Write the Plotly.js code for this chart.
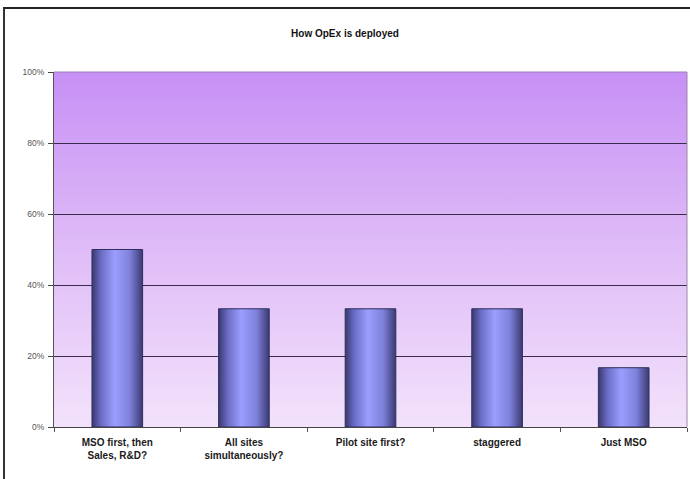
<!DOCTYPE html>
<html>
<head>
<meta charset="utf-8">
<script src="https://cdn.plot.ly/plotly-3.0.1.min.js"></script>
<style>
html,body{margin:0;padding:0;background:#fff;}
#wrap{position:relative;width:690px;height:479px;overflow:hidden;}
#chart{width:690px;height:479px;}
#frame{position:absolute;left:3px;top:7px;width:720px;height:520px;border-left:2px solid #333;border-top:2px solid #222;pointer-events:none;}
</style>
</head>
<body>
<div id="wrap"><div id="chart"></div><div id="frame"></div></div>
<script>
const categories = ["MSO first, then<br>Sales, R&D?", "All sites<br>simultaneously?", "Pilot site first?", "staggered", "Just MSO"];
const values = [0.50, 0.333, 0.333, 0.333, 0.167];
const yTicks = [0, 0.2, 0.4, 0.6, 0.8, 1.0];

const trace = {
  type: 'bar',
  x: categories,
  y: values,
  width: 0.4,
  marker: {color: '#8c8cf0', line: {color: '#2f2f5e', width: 1}},
  hoverinfo: 'none'
};

const layout = {
  width: 690, height: 479,
  margin: {l: 54, r: 3, t: 72, b: 52},
  paper_bgcolor: '#ffffff',
  plot_bgcolor: '#dcbdf6',
  showlegend: false,
  title: {text: 'How OpEx is deployed', x: 0.5, xanchor: 'center', y: 0.931, yanchor: 'middle',
          font: {family: 'Liberation Sans, Arial, sans-serif', size: 10, color: '#111', weight: 600}},
  xaxis: {
    type: 'category',
    showgrid: false,
    showline: true, linecolor: '#444', linewidth: 1,
    ticks: 'outside', ticklen: 4, tickcolor: '#555', tickson: 'boundaries',
    ticklabelstandoff: 6,
    tickfont: {family: 'Liberation Sans, Arial, sans-serif', size: 10, color: '#1a1a1a', weight: 600},
    mirror: false
  },
  yaxis: {
    range: [0, 1],
    tickvals: yTicks,
    tickformat: '.0%',
    showgrid: true, gridcolor: '#3a2c4c', gridwidth: 1,
    showline: true, linecolor: '#555', linewidth: 1,
    ticks: 'outside', ticklen: 5, tickcolor: '#444',
    ticklabelstandoff: 2,
    tickfont: {family: 'Liberation Sans, Arial, sans-serif', size: 8.5, color: '#555'},
    zeroline: false
  },
  shapes: [
    {type: 'line', xref: 'paper', yref: 'paper', x0: 1, x1: 1, y0: 0, y1: 1, line: {color: '#9a8aa8', width: 1}},
    {type: 'line', xref: 'paper', yref: 'paper', x0: 0, x1: 1, y0: 1, y1: 1, line: {color: '#9a7cb8', width: 1}}
  ]
};

Plotly.newPlot('chart', [trace], layout, {displayModeBar: false, staticPlot: true}).then(function(gd){
  const NS = 'http://www.w3.org/2000/svg';
  const svg = gd.querySelector('svg.main-svg');
  let defs = svg.querySelector('defs');
  if (!defs) { defs = document.createElementNS(NS, 'defs'); svg.insertBefore(defs, svg.firstChild); }
  function grad(id, x2, y2, stops) {
    const g = document.createElementNS(NS, 'linearGradient');
    g.setAttribute('id', id);
    g.setAttribute('x1', '0'); g.setAttribute('y1', '0');
    g.setAttribute('x2', x2); g.setAttribute('y2', y2);
    stops.forEach(function(s){
      const st = document.createElementNS(NS, 'stop');
      st.setAttribute('offset', s[0]);
      st.setAttribute('stop-color', s[1]);
      g.appendChild(st);
    });
    defs.appendChild(g);
  }
  grad('bgGrad', '0', '1', [['0', '#c790f5'], ['0.5', '#dfbcf7'], ['1', '#f3e2fb']]);
  grad('barGrad', '1', '0', [['0', '#383870'], ['0.18', '#6b6cc4'], ['0.45', '#9c9eff'], ['0.75', '#7e80da'], ['1', '#3a3a72']]);
  gd.querySelectorAll('.bglayer .bg').forEach(function(r){ r.style.fill = 'url(#bgGrad)'; r.style.fillOpacity = 1; });
  gd.querySelectorAll('.bars .point path').forEach(function(p){ p.style.fill = 'url(#barGrad)'; p.style.fillOpacity = 1; });
});
</script>
</body>
</html>
